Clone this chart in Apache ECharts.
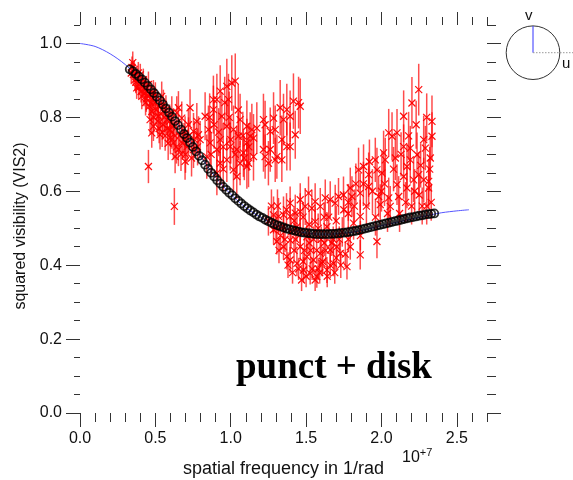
<!DOCTYPE html>
<html>
<head>
<meta charset="utf-8">
<script src="https://cdn.jsdelivr.net/npm/echarts@6/dist/echarts.min.js"></script>
<style>html,body{margin:0;padding:0;background:#fff}#c{width:573px;height:480px}</style>
</head>
<body>
<div id="c"></div>
<script>
// ---- tick values (x in units of 1e7 1/rad) ----
const xMajorTicks = [0, 0.5, 1.0, 1.5, 2.0, 2.5];
const xMinorTicks = [0.1,0.2,0.3,0.4,0.6,0.7,0.8,0.9,1.1,1.2,1.3,1.4,1.6,1.7,1.8,1.9,2.1,2.2,2.3,2.4,2.6,2.7];
const yMajorTicks = [0, 0.2, 0.4, 0.6, 0.8, 1.0];
const yMinorTicks = [0.05,0.1,0.15,0.25,0.3,0.35,0.45,0.5,0.55,0.65,0.7,0.75,0.85,0.9,0.95,1.05];

// ---- model curve (blue) ----
const curveX = [0, 0.1, 0.2, 0.3, 0.4, 0.5, 0.6, 0.7, 0.8, 0.9, 1.0, 1.1, 1.2, 1.3, 1.4, 1.5, 1.6, 1.7, 1.8, 1.9, 2.0, 2.1, 2.2, 2.3, 2.4, 2.5, 2.58];
const curveY = [1.0, 0.992, 0.972, 0.943, 0.903, 0.855, 0.806, 0.752, 0.694, 0.638, 0.592, 0.556, 0.529, 0.508, 0.495, 0.487, 0.484, 0.485, 0.489, 0.497, 0.507, 0.516, 0.525, 0.534, 0.542, 0.547, 0.55];

// ---- model values at the data points (black circles) ----
const modelX = [0.33,0.35,0.37,0.39,0.41,0.43,0.45,0.47,0.49,0.51,0.53,0.55,0.57,0.59,0.61,0.63,0.65,0.67,0.69,0.71,0.73,0.75,0.77,0.79,0.81,0.83,0.85,0.87,0.89,0.91,0.93,0.95,0.97,0.99,
 1.01,1.03,1.05,1.07,1.09,1.11,1.13,1.15,1.17,1.19,1.21,1.23,1.25,1.27,1.29,1.31,1.33,1.35,1.37,1.39,1.41,1.43,1.45,1.47,1.49,1.51,1.53,1.55,1.57,1.59,1.61,1.63,1.65,1.67,1.69,
 1.71,1.73,1.75,1.77,1.79,1.81,1.83,1.85,1.87,1.89,1.91,1.93,1.95,1.97,1.99,2.01,2.03,2.05,2.07,2.09,2.11,2.13,2.15,2.17,2.19,2.21,2.23,2.25,2.27,2.29,2.31,2.33,2.35];
const modelY = [0.930,0.925,0.918,0.911,0.903,0.894,0.885,0.876,0.866,0.856,0.846,0.835,0.824,0.813,0.802,0.790,0.779,0.767,0.755,0.744,0.732,0.720,0.708,0.696,0.684,0.672,0.661,0.650,0.640,0.630,0.621,0.612,0.604,0.596,
 0.589,0.581,0.574,0.567,0.560,0.554,0.548,0.543,0.537,0.532,0.528,0.523,0.519,0.515,0.511,0.508,0.505,0.502,0.499,0.497,0.495,0.493,0.491,0.489,0.488,0.487,0.486,0.485,0.484,0.484,0.484,0.484,0.484,0.485,0.485,
 0.486,0.487,0.488,0.489,0.490,0.492,0.493,0.495,0.497,0.499,0.501,0.503,0.505,0.507,0.509,0.511,0.513,0.515,0.517,0.519,0.521,0.523,0.525,0.527,0.529,0.530,0.532,0.534,0.535,0.537,0.538,0.539,0.540];

// ---- measured VIS2 (red crosses with error bars) ----
const dataX = [
 0.35,0.354,0.365,0.387,0.398,0.42,0.432,0.454,0.465,0.376,0.41,0.487,0.498,0.476,0.465,0.487,0.476,0.52,0.542,0.553,0.575,0.531,0.454,0.626,0.598,0.62,0.642,0.653,0.675,0.73,0.719,0.697,0.753,0.786,0.653,0.697,0.631,0.753,0.797,0.775,0.609,
 0.36,0.38,0.40,0.44,0.50,0.52,0.56,0.58,0.60,0.44,0.47,0.55,0.66,0.68,0.71,0.74,0.62,0.57,
 0.34,0.345,0.37,0.39,0.405,0.415,0.425,0.435,0.445,0.46,0.48,0.49,0.505,0.515,0.525,0.535,0.545,0.565,0.585,0.595,0.61,0.63,0.64,0.67,0.69,0.70,0.72,0.76,0.78,
 0.83,0.852,0.885,0.908,0.93,0.974,1.007,1.03,0.941,0.974,1.018,1.062,1.051,1.107,1.14,0.863,0.908,0.93,0.996,1.04,1.084,1.107,1.062,0.974,0.93,0.908,1.018,1.107,1.151,0.841,1.118,0.885,0.985,
 0.86,0.89,0.92,0.95,0.96,0.99,1.0,1.03,1.05,1.08,1.09,1.12,0.87,0.95,1.04,
 1.151,1.173,1.217,1.228,1.284,1.295,1.328,1.35,1.394,1.416,1.461,1.339,1.394,1.262,1.228,1.295,1.339,1.217,1.129,1.262,1.428,1.372,1.306,1.372,1.25,1.45,
 2.247,2.202,2.335,2.335,2.147,2.103,2.048,2.07,2.147,2.28,2.291,2.191,2.236,2.324,2.014,2.092,1.959,2.025,1.881,1.848,1.915,1.97,2.003,2.169,2.191,2.247,2.28,2.313,2.313,2.213,2.147,2.103,2.169,2.114,2.048,1.981,1.992,2.058,1.915,1.859,1.793,1.804,1.748,1.715,1.693,1.66,1.627,1.594,1.56,1.538,1.494,1.461,1.428,1.394,1.35,1.317,1.284,1.815,1.859,1.97,1.859,2.30,2.25,2.20,2.12,1.90,1.75,1.65,
 1.88,1.94,1.96,2.02,2.04,2.08,2.13,2.16,2.18,2.22,2.23,2.26,2.27,2.30,2.32,2.33,1.83,1.78,1.92,2.0,
 1.771,1.727,1.682,1.638,1.605,1.571,1.527,1.483,1.439,1.394,1.372,1.35,1.306,1.284,1.394,1.461,1.505,1.549,1.594,1.66,1.704,1.505,1.439,1.638,1.56,1.35,1.394,1.461,1.516,1.793,1.42,1.48,1.53,1.58,1.62,1.68,1.74,1.33,1.25,1.27,
 1.30,1.32,1.36,1.38,1.40,1.41,1.43,1.45,1.46,1.47,1.49,1.50,1.52,1.54,1.55,1.56,1.57,1.59,1.60,1.61,1.63,1.64,1.66,1.67,1.69,1.70,1.72,1.73,1.76,1.78,1.42,1.48,1.52,1.58,1.62,1.70,1.78,1.82,1.86,1.37,1.31
];
const dataY = [
 0.948,0.916,0.902,0.92,0.893,0.902,0.875,0.889,0.862,0.88,0.857,0.866,0.839,0.816,0.794,0.776,0.758,0.803,0.857,0.835,0.794,0.753,0.667,0.559,0.767,0.731,0.812,0.826,0.798,0.826,0.78,0.758,0.762,0.753,0.713,0.681,0.694,0.713,0.74,0.789,0.812,
 0.93,0.905,0.915,0.88,0.86,0.83,0.80,0.77,0.745,0.85,0.84,0.78,0.75,0.73,0.72,0.69,0.78,0.82,
 0.92,0.935,0.895,0.88,0.87,0.885,0.865,0.84,0.86,0.83,0.85,0.80,0.82,0.79,0.77,0.81,0.76,0.75,0.73,0.79,0.76,0.75,0.72,0.70,0.74,0.70,0.75,0.74,0.72,
 0.803,0.767,0.821,0.848,0.871,0.884,0.893,0.898,0.803,0.776,0.767,0.794,0.749,0.776,0.767,0.731,0.713,0.74,0.721,0.713,0.704,0.731,0.676,0.685,0.676,0.649,0.658,0.667,0.694,0.694,0.676,0.848,0.848,
 0.80,0.78,0.76,0.72,0.84,0.80,0.74,0.70,0.82,0.75,0.69,0.72,0.70,0.66,0.64,
 0.744,0.771,0.794,0.78,0.798,0.767,0.826,0.794,0.803,0.844,0.83,0.74,0.721,0.713,0.694,0.685,0.685,0.713,0.749,0.762,0.753,0.821,0.694,0.721,0.676,0.84,
 0.875,0.839,0.789,0.749,0.803,0.758,0.758,0.749,0.721,0.74,0.717,0.717,0.699,0.69,0.704,0.69,0.685,0.685,0.667,0.658,0.645,0.658,0.649,0.667,0.685,0.645,0.631,0.627,0.609,0.631,0.64,0.618,0.609,0.586,0.582,0.586,0.564,0.559,0.613,0.595,0.609,0.586,0.59,0.586,0.568,0.577,0.582,0.559,0.572,0.554,0.559,0.545,0.541,0.532,0.536,0.532,0.536,0.514,0.532,0.464,0.428,0.56,0.59,0.56,0.54,0.56,0.55,0.53,
 0.62,0.60,0.53,0.62,0.54,0.66,0.70,0.57,0.75,0.60,0.78,0.67,0.56,0.80,0.66,0.57,0.62,0.57,0.68,0.60,
 0.396,0.432,0.405,0.387,0.405,0.369,0.378,0.387,0.405,0.414,0.423,0.45,0.464,0.496,0.468,0.45,0.423,0.414,0.432,0.441,0.45,0.477,0.504,0.504,0.518,0.504,0.568,0.577,0.595,0.45,0.44,0.41,0.44,0.39,0.46,0.47,0.49,0.48,0.52,0.56,
 0.50,0.44,0.47,0.40,0.49,0.38,0.47,0.39,0.49,0.36,0.44,0.37,0.46,0.39,0.47,0.36,0.44,0.38,0.47,0.41,0.44,0.37,0.40,0.46,0.38,0.42,0.47,0.40,0.43,0.47,0.52,0.53,0.51,0.50,0.53,0.52,0.54,0.56,0.48,0.55,0.56
];
const dataErr = [
 0.03,0.03,0.03,0.03,0.03,0.03,0.035,0.035,0.035,0.03,0.035,0.035,0.035,0.035,0.04,0.04,0.04,0.04,0.04,0.04,0.04,0.04,0.045,0.05,0.045,0.045,0.045,0.045,0.045,0.05,0.045,0.045,0.05,0.05,0.045,0.05,0.045,0.05,0.05,0.05,0.045,
 0.025,0.03,0.03,0.03,0.035,0.035,0.04,0.04,0.045,0.035,0.035,0.04,0.045,0.045,0.045,0.05,0.045,0.04,
 0.03,0.03,0.03,0.03,0.03,0.03,0.035,0.035,0.035,0.035,0.035,0.04,0.04,0.04,0.04,0.04,0.04,0.04,0.045,0.045,0.045,0.045,0.045,0.045,0.045,0.05,0.05,0.05,0.05,
 0.065,0.065,0.065,0.07,0.07,0.075,0.075,0.075,0.065,0.065,0.065,0.07,0.065,0.07,0.07,0.065,0.065,0.065,0.065,0.065,0.065,0.065,0.06,0.06,0.06,0.06,0.06,0.06,0.065,0.06,0.065,0.065,0.07,
 0.065,0.065,0.065,0.065,0.07,0.07,0.065,0.065,0.07,0.065,0.06,0.065,0.06,0.06,0.06,
 0.065,0.07,0.07,0.065,0.07,0.065,0.075,0.07,0.07,0.075,0.075,0.065,0.065,0.06,0.06,0.06,0.06,0.06,0.065,0.065,0.065,0.07,0.06,0.065,0.06,0.07,
 0.07,0.07,0.07,0.065,0.07,0.065,0.065,0.065,0.06,0.065,0.06,0.06,0.06,0.06,0.06,0.06,0.06,0.06,0.06,0.06,0.06,0.06,0.06,0.06,0.06,0.06,0.06,0.06,0.055,0.06,0.06,0.055,0.055,0.055,0.055,0.055,0.055,0.055,0.055,0.055,0.055,0.055,0.05,0.05,0.05,0.05,0.05,0.05,0.05,0.05,0.05,0.05,0.05,0.05,0.05,0.05,0.05,0.045,0.045,0.045,0.04,0.05,0.055,0.05,0.05,0.055,0.05,0.045,
 0.06,0.06,0.05,0.06,0.05,0.06,0.06,0.055,0.065,0.06,0.065,0.06,0.05,0.065,0.06,0.05,0.055,0.05,0.06,0.055,
 0.035,0.035,0.035,0.035,0.035,0.03,0.03,0.035,0.035,0.035,0.035,0.035,0.035,0.04,0.035,0.035,0.035,0.035,0.035,0.035,0.035,0.04,0.04,0.04,0.04,0.04,0.045,0.045,0.045,0.035,0.035,0.035,0.035,0.03,0.035,0.035,0.04,0.04,0.04,0.045,
 0.04,0.035,0.035,0.035,0.04,0.03,0.035,0.03,0.04,0.03,0.035,0.03,0.035,0.03,0.035,0.03,0.035,0.03,0.035,0.035,0.035,0.03,0.035,0.035,0.03,0.035,0.035,0.035,0.035,0.035,0.04,0.04,0.04,0.04,0.04,0.04,0.04,0.045,0.04,0.045,0.045
];

const xTitle = 'spatial frequency in 1/rad';
const yTitle = 'squared visibility (VIS2)';
const modelLabel = 'punct + disk';

const chart = echarts.init(document.getElementById('c'), null, {renderer: 'canvas'});
const tickColor = '#333';
const font = 'Liberation Sans, Arial, sans-serif';
const X_MIN = 0, X_MAX = 2.7, Y_MIN = 0, Y_MAX = 1.05;

function xAx(pos, vals, len, showLabel, extra) {
  return Object.assign({
    type: 'value', position: pos, min: X_MIN, max: X_MAX,
    axisLine: {show: false, onZero: false}, splitLine: {show: false},
    axisTick: {show: true, inside: false, length: len, customValues: vals, lineStyle: {color: tickColor, width: 1}},
    axisLabel: showLabel ? {show: true, customValues: vals, formatter: v => v.toFixed(1), fontSize: 16, fontFamily: font, color: '#111', margin: 18}
                         : {show: false}
  }, extra || {});
}
function yAx(pos, vals, len, showLabel, extra) {
  return Object.assign({
    type: 'value', position: pos, min: Y_MIN, max: Y_MAX,
    axisLine: {show: false, onZero: false}, splitLine: {show: false},
    axisTick: {show: true, inside: false, length: len, customValues: vals, lineStyle: {color: tickColor, width: 1}},
    axisLabel: showLabel ? {show: true, customValues: vals, formatter: v => v.toFixed(1), fontSize: 16, fontFamily: font, color: '#111', margin: 18}
                         : {show: false}
  }, extra || {});
}

const redData = dataX.map((x, i) => [x, dataY[i], dataErr[i]]);

chart.setOption({
  animation: false,
  backgroundColor: '#fff',
  grid: {left: 80, right: 86, top: 25, bottom: 67, containLabel: false, outerBoundsMode: 'none'},
  xAxis: [
    xAx('bottom', xMajorTicks, 14, true, {name: xTitle, nameLocation: 'middle', nameGap: 47,
        nameTextStyle: {fontSize: 18, fontFamily: font, color: '#111'}}),
    xAx('bottom', xMinorTicks, 9, false),
    xAx('top', xMajorTicks, 13, false),
    xAx('top', xMinorTicks, 8, false)
  ],
  yAxis: [
    yAx('left', yMajorTicks, 14, true, {name: yTitle, nameLocation: 'middle', nameGap: 50,
        nameTextStyle: {fontSize: 16, fontFamily: font, color: '#111', padding: [0, 14, 0, 0]}}),
    yAx('left', yMinorTicks, 6, false),
    yAx('right', yMajorTicks, 14, false),
    yAx('right', yMinorTicks, 9, false)
  ],
  series: [
    {
      type: 'line', name: 'model curve', xAxisIndex: 0, yAxisIndex: 0,
      data: curveX.map((x, i) => [x, curveY[i]]),
      showSymbol: false, smooth: 0.3, z: 2,
      lineStyle: {color: '#5555ff', width: 1}
    },
    {
      type: 'custom', name: 'VIS2 data', xAxisIndex: 0, yAxisIndex: 0, z: 3,
      data: redData, encode: {x: 0, y: 1},
      renderItem: function (params, api) {
        const x = api.value(0), y = api.value(1), e = api.value(2);
        const p = api.coord([x, y]);
        const hi = api.coord([x, y + e]);
        const lo = api.coord([x, y - e]);
        const s = 3.5;
        return {
          type: 'group',
          children: [
            {type: 'line', shape: {x1: p[0], y1: hi[1], x2: p[0], y2: lo[1]}, style: {stroke: 'rgba(255,0,0,0.7)', lineWidth: 1.5}},
            {type: 'line', shape: {x1: p[0] - s, y1: p[1] - s, x2: p[0] + s, y2: p[1] + s}, style: {stroke: 'rgba(255,0,0,0.95)', lineWidth: 1.2}},
            {type: 'line', shape: {x1: p[0] - s, y1: p[1] + s, x2: p[0] + s, y2: p[1] - s}, style: {stroke: 'rgba(255,0,0,0.95)', lineWidth: 1.2}}
          ]
        };
      }
    },
    {
      type: 'scatter', name: 'model at data', xAxisIndex: 0, yAxisIndex: 0, z: 4,
      data: modelX.map((x, i) => [x, modelY[i]]),
      symbol: 'circle', symbolSize: 8,
      itemStyle: {color: 'rgba(0,0,0,0)', borderColor: '#000', borderWidth: 1.8}
    }
  ],
  graphic: [
    {type: 'text', left: 236, top: 350, z: 10,
     style: {text: modelLabel, font: 'bold 37px "Liberation Serif", "Times New Roman", serif', fill: '#000'}},
    {type: 'text', left: 402, top: 447, z: 10,
     style: {text: '{b|10}{s|+7}', rich: {b: {fontSize: 16, fontFamily: font, fill: '#111', verticalAlign: 'bottom'},
                                         s: {fontSize: 11, fontFamily: font, fill: '#111', verticalAlign: 'top', padding: [0, 0, 8, 0]}}}},
    {type: 'circle', shape: {cx: 533, cy: 52.7, r: 26.8}, style: {fill: 'none', stroke: '#333', lineWidth: 1}, z: 10},
    {type: 'line', shape: {x1: 533, y1: 52.7, x2: 533, y2: 26}, style: {stroke: '#3333ff', lineWidth: 1}, z: 11},
    {type: 'line', shape: {x1: 533, y1: 52.7, x2: 573, y2: 52.7}, style: {stroke: '#999', lineWidth: 1, lineDash: [1.5, 1.5]}, z: 11},
    {type: 'text', left: 525, top: 8, style: {text: 'v', font: '15px "Liberation Sans", Arial, sans-serif', fill: '#111'}, z: 11},
    {type: 'text', left: 562, top: 56, style: {text: 'u', font: '15px "Liberation Sans", Arial, sans-serif', fill: '#111'}, z: 11}
  ]
});
</script>
</body>
</html>
